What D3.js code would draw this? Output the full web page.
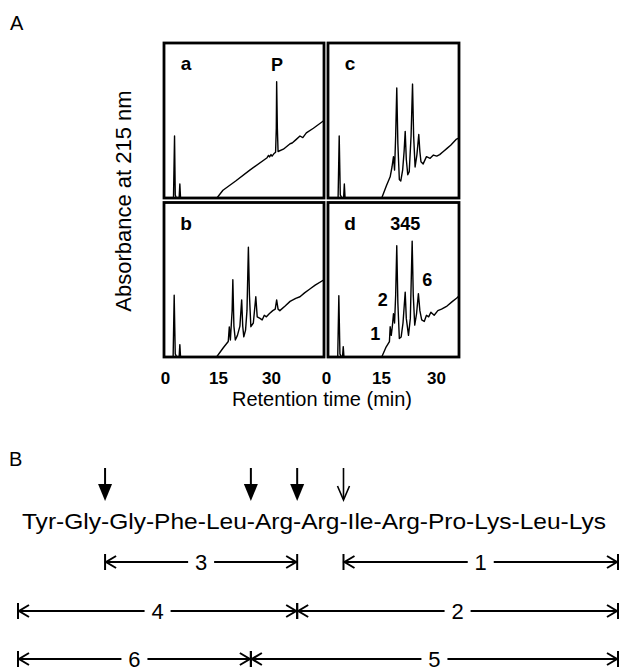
<!DOCTYPE html>
<html lang="en">
<head>
<meta charset="UTF-8">
<title>Peptide digest HPLC</title>
<script src="https://cdn.jsdelivr.net/npm/d3@7"></script>
<style>
    body { margin: 0; background: #fff; }
    svg { font-family: "Liberation Sans", Arial, sans-serif; }
    .trace { fill: none; stroke: #000; stroke-width: 1.4; stroke-linejoin: round; }
    .frame { fill: none; stroke: #000; stroke-width: 2.8; }
    .frag line, .frag path, .cut line { stroke: #000; stroke-width: 2; fill: none; }
</style>
</head>
<body>
<svg width="621" height="671"></svg>
<script>
// ---- data ----
var timeTicks = [0, 15, 30];

// chromatograms: [time (min), absorbance (relative, 0-100)]
var traceA = [[0,0],[2.4,0],[2.7,40],[2.9,2],[3.2,0],[4.0,0],[4.2,9],[4.4,0],[14.7,0],[16.4,5],[20,11],[24,18],
    [28.9,26],[29.3,27.5],[29.6,26.5],[30.0,28],[30.3,27],[30.8,28.5],[31.3,29.5],[31.5,45],[31.6,75],[31.8,45],
    [32.0,30],[33.5,31.5],[35.4,35],[36,35.5],[37,37.5],[38.2,40],[39,39],[40,42],[42,45],[45,50]];
var traceB = [[0,0],[2.3,0],[2.6,40],[2.9,2],[3.3,0],[4.0,0],[4.2,8],[4.4,0],[14.6,0],[16.5,6],[17.9,10],[18.2,19.5],
    [18.5,11],[19.0,30],[19.2,50],[19.5,20],[19.9,11],[20.5,14],[21.2,20],[21.7,37],[22.0,20],[22.3,13],[22.8,17.4],
    [23.2,30],[23.6,71],[23.9,40],[24.3,19.6],[25.0,22],[25.7,39],[26.1,26],[26.9,25],[27.5,24],[28.1,27],[28.7,26],
    [29.5,28],[30.5,30],[31.2,31],[31.6,37],[32.0,31],[32.5,30],[34,33],[35.4,36],[37,38],[38.2,39],[39.5,41.5],
    [41,44],[42.5,46.5],[45,50]];
var traceC = [[0,0],[3.3,0],[3.6,40],[3.9,2],[4.3,0],[4.8,0],[5.0,9],[5.2,0],[15.2,0],[16.5,8],[17.5,13.7],[18.0,20],
    [18.4,26.7],[18.7,18],[19.0,40],[19.3,71],[19.6,35],[20.0,12],[20.4,11],[20.9,18],[21.3,30],[21.6,43],[21.9,25],
    [22.3,15],[22.7,17],[23.2,40],[23.6,73.5],[23.9,40],[24.3,20],[24.8,28],[25.3,41],[25.6,30],[25.9,23.4],[26.5,22],
    [27.4,26.7],[28.4,25.6],[29.3,27.7],[30.2,27],[31,28],[32,30],[33,32],[34,34],[35.6,38],[36.5,39]];
var traceD = [[0,0],[3.2,0],[3.5,39.6],[3.8,2],[4.2,0],[4.5,0],[4.7,6.7],[4.9,0],[15.2,0],[16.3,6],[17.3,10],[17.5,19.6],
    [17.8,14],[18.1,20],[18.4,28],[18.7,22],[19.0,40],[19.3,72],[19.6,35],[20.0,12],[20.5,13],[21.0,22],[21.6,42],
    [21.9,25],[22.5,14],[23.0,25],[23.5,75],[23.8,40],[24.2,20.6],[24.7,28],[25.2,41],[25.6,30],[26.1,24],[26.8,23],
    [27.4,27],[28.0,26],[28.6,29],[29.5,27],[30.5,30],[31.5,31],[33,33],[34.5,36],[35.6,38],[36.5,40]];

var panelNames = ["a", "b", "c", "d"];
var panelCol = [0, 0, 1, 1];
var panelRow = [0, 1, 0, 1];
var traces = [traceA, traceB, traceC, traceD];

// peak annotations: [panel, label, time, absorbance]
var peakLabels = [[0, "P", 31.7, 86], [3, "345", 21.6, 86], [3, "6", 27.6, 50], [3, "2", 15.5, 37], [3, "1", 13.4, 15]];

// part B
var residues = ["Tyr","Gly","Gly","Phe","Leu","Arg","Arg","Ile","Arg","Pro","Lys","Leu","Lys"];
var cutAfter = [2, 5, 6, 7];
var cutOpen = [false, false, false, true];
var fragLabels = ["3", "1", "4", "2", "6", "5"];
var fragStart = [2, 7, 0, 6, 0, 5];
var fragEnd = [6, 13, 6, 13, 5, 13];
var fragRow = [0, 0, 1, 1, 2, 2];

// ---- layout ----
var svg = d3.select("svg");
var colX = [[164, 324], [328, 459]];
var rowY = [[43, 198], [202.5, 357]];

var xScales = [
    d3.scaleLinear().domain([0, 30]).range([165, 271]),
    d3.scaleLinear().domain([0, 30]).range([326, 436])
];
var yScales = rowY.map(function(r) {
    return d3.scaleLinear().domain([0, 100]).range([r[1], r[0]]);
});

var defs = svg.append("defs");

panelNames.forEach(function(name, i) {
    var cx = colX[panelCol[i]], ry = rowY[panelRow[i]];
    var x = xScales[panelCol[i]], y = yScales[panelRow[i]];

    defs.append("clipPath").attr("id", "clip" + i)
        .append("rect")
        .attr("x", cx[0]).attr("y", ry[0])
        .attr("width", cx[1] - cx[0]).attr("height", ry[1] - ry[0]);

    var line = d3.line()
        .x(function(d) { return x(d[0]); })
        .y(function(d) { return y(d[1]); });

    svg.append("path")
        .attr("class", "trace")
        .attr("clip-path", "url(#clip" + i + ")")
        .attr("d", line(traces[i]));

    svg.append("rect")
        .attr("class", "frame")
        .attr("x", cx[0]).attr("y", ry[0])
        .attr("width", cx[1] - cx[0]).attr("height", ry[1] - ry[0]);

    svg.append("text")
        .attr("x", cx[0] + 22).attr("y", ry[0] + 27)
        .attr("text-anchor", "middle")
        .attr("font-size", 19).attr("font-weight", "bold")
        .text(name);
});

peakLabels.forEach(function(p) {
    var i = p[0];
    var x = xScales[panelCol[i]], y = yScales[panelRow[i]];
    svg.append("text")
        .attr("x", x(p[2])).attr("y", y(p[3]) + 6)
        .attr("text-anchor", "middle")
        .attr("font-size", 18).attr("font-weight", "bold")
        .text(p[1]);
});

// x axes (labels only)
xScales.forEach(function(x) {
    var g = svg.append("g")
        .attr("transform", "translate(0,372)")
        .call(d3.axisBottom(x).tickValues(timeTicks).tickSize(0).tickPadding(0));
    g.select(".domain").remove();
    g.selectAll("text")
        .attr("font-family", "Liberation Sans, Arial, sans-serif")
        .attr("font-size", 17).attr("font-weight", "bold")
        .attr("fill", "#000");
});

svg.append("text")
    .attr("x", 322).attr("y", 406)
    .attr("text-anchor", "middle")
    .attr("font-size", 20)
    .text("Retention time (min)");

svg.append("text")
    .attr("transform", "translate(131,201) rotate(-90)")
    .attr("text-anchor", "middle")
    .attr("font-size", 22)
    .text("Absorbance at 215 nm");

svg.append("text").attr("x", 10).attr("y", 30).attr("font-size", 20).text("A");
svg.append("text").attr("x", 9).attr("y", 466).attr("font-size", 20).text("B");

// ---- part B: sequence ----
var seqX = 22, seqW = 584, seqY = 529;
var seq = svg.append("text")
    .attr("x", seqX).attr("y", seqY)
    .attr("font-size", 22)
    .attr("textLength", seqW).attr("lengthAdjust", "spacingAndGlyphs")
    .text(residues.join("-"));

var seqNode = seq.node();
var bounds = [seqX - 4];
var pos = 0;
for (var k = 0; k < residues.length - 1; k++) {
    pos += residues[k].length;
    var a = seqNode.getStartPositionOfChar(pos).x, b = seqNode.getEndPositionOfChar(pos).x;
    bounds.push((a + b) / 2);
    pos += 1;
}
bounds.push(seqX + seqW + 12);

// cleavage arrows
cutAfter.forEach(function(c, i) {
    var x = bounds[c];
    var g = svg.append("g").attr("class", "cut");
    if (cutOpen[i]) {
        g.append("line").attr("x1", x).attr("x2", x).attr("y1", 468).attr("y2", 499).style("stroke-width", 1.6);
        g.append("path").attr("d", "M" + (x - 6) + ",486L" + x + ",500L" + (x + 6) + ",486")
            .style("fill", "none").style("stroke", "#000").style("stroke-width", 1.6);
    } else {
        g.append("line").attr("x1", x).attr("x2", x).attr("y1", 468).attr("y2", 486);
        g.append("path").attr("d", "M" + (x - 7) + ",484L" + (x + 7) + ",484L" + x + ",501Z")
            .style("fill", "#000").style("stroke", "none");
    }
});

// fragments
var fragY = [562, 611, 659];
fragLabels.forEach(function(lab, i) {
    var x1 = bounds[fragStart[i]], x2 = bounds[fragEnd[i]], y = fragY[fragRow[i]];
    var mid = (x1 + x2) / 2;
    var g = svg.append("g").attr("class", "frag");
    g.append("line").attr("x1", x1).attr("x2", mid - 13).attr("y1", y).attr("y2", y);
    g.append("line").attr("x1", mid + 13).attr("x2", x2).attr("y1", y).attr("y2", y);
    g.append("line").attr("x1", x1).attr("x2", x1).attr("y1", y - 8).attr("y2", y + 8);
    g.append("line").attr("x1", x2).attr("x2", x2).attr("y1", y - 8).attr("y2", y + 8);
    g.append("path").attr("d", "M" + (x1 + 11) + "," + (y - 6) + "L" + (x1 + 1) + "," + y + "L" + (x1 + 11) + "," + (y + 6));
    g.append("path").attr("d", "M" + (x2 - 11) + "," + (y - 6) + "L" + (x2 - 1) + "," + y + "L" + (x2 - 11) + "," + (y + 6));
    svg.append("text")
        .attr("x", mid).attr("y", y + 8)
        .attr("text-anchor", "middle")
        .attr("font-size", 22)
        .text(lab);
});
</script>
</body>
</html>
